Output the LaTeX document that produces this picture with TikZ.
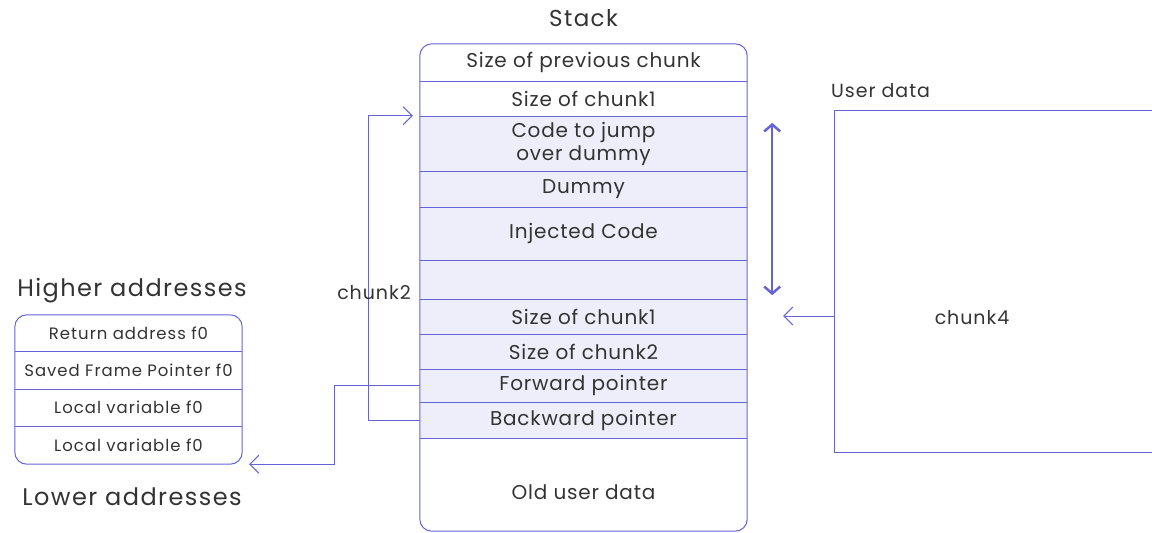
\documentclass[tikz,border=0pt]{standalone}
\usepackage{fontspec}
\setmainfont{Poppins}
\newfontfamily\rowfont[LetterSpace=4]{Poppins}
\newfontfamily\widefont[LetterSpace=6]{Poppins}
\newfontfamily\lblfont[LetterSpace=5]{Poppins}
\usetikzlibrary{arrows.meta}
\definecolor{ln}{HTML}{6464D8}
\definecolor{lav}{HTML}{EEEEFA}
\definecolor{tx}{HTML}{333333}
\tikzset{
  row/.style={draw=none, inner sep=0pt, minimum width=327pt, text=tx, font=\rowfont\fontsize{20}{23}\selectfont, align=center},
  lrow/.style={draw=none, inner sep=0pt, minimum width=227pt, text=tx, font=\widefont\fontsize{16.5}{19}\selectfont},
  conn/.style={draw=ln, line width=1pt, -{Straight Barb[length=9pt,width=18pt]}},
  lbl/.style={text=tx, inner sep=0pt},
  divl/.style={draw=ln, line width=1pt},
}
\begin{document}
\begin{tikzpicture}[x=1pt,y=-1pt]
\useasboundingbox (0,0) rectangle (1152,533);
% Stack rows
\node[row, minimum height=37pt] (r1) at (583.5,62.5) {Size of previous chunk};
\node[row, minimum height=35pt] (r2) at (583.5,98.5) {Size of chunk1};
\node[row, minimum height=55pt, fill=lav] (r3) at (583.5,143.5) {Code to jump\\over dummy};
\node[row, minimum height=36pt, fill=lav] (r4) at (583.5,189) {Dummy};
\node[row, minimum height=53pt, fill=lav] (r5) at (583.5,233.5) {Injected Code};
\node[row, minimum height=39pt, fill=lav] (r6) at (583.5,279.5) {};
\node[row, minimum height=35pt, fill=lav] (r7) at (583.5,316.5) {Size of chunk1};
\node[row, minimum height=35pt, fill=lav] (r8) at (583.5,351.5) {Size of chunk2};
\node[row, minimum height=33pt, fill=lav] (r9) at (583.5,385.5) {Forward pointer};
\node[row, minimum height=36pt, fill=lav] (r10) at (583.5,420) {Backward pointer};
\node[row, minimum height=93pt] (r11) at (583.5,484.5) {};
\node[lbl, font=\rowfont\fontsize{20}{23}\selectfont] (old) at (583.5,492) {Old user data};
\foreach \r in {r1,r2,r3,r4,r5,r6,r7,r8,r9,r10}{
  \draw[divl] (\r.south west) -- (\r.south east);
}
\draw[divl, rounded corners=12pt] (r1.north west) rectangle (r11.south east);
\node[lbl, font=\widefont\fontsize{23}{26}\selectfont] (stack) at (583.5,18) {Stack};

% Left frame
\node[lrow, minimum height=36pt] (l1) at (128.5,333) {Return address f0};
\node[lrow, minimum height=38pt] (l2) at (128.5,370) {Saved Frame Pointer f0};
\node[lrow, minimum height=37pt] (l3) at (128.5,407.5) {Local variable f0};
\node[lrow, minimum height=38pt] (l4) at (128.5,445) {Local variable f0};
\foreach \r in {l1,l2,l3}{
  \draw[divl] (\r.south west) -- (\r.south east);
}
\draw[divl, rounded corners=12pt] (l1.north west) rectangle (l4.south east);
\node[lbl, font=\widefont\fontsize{24}{27}\selectfont] (hi) at (132,291) {Higher addresses};
\node[lbl, font=\widefont\fontsize{24}{27}\selectfont] (lo) at (132,497) {Lower addresses};

% User data frame
\coordinate (c4tl) at (834,110);
\coordinate (c4bl) at (834,452);
\coordinate (c4l) at (834,316);
\draw[divl] (1153,110) -- (c4tl) -- (c4bl) -- (1153,452);
\node[lbl, font=\lblfont\fontsize{19}{22}\selectfont, anchor=west] (ud) at (831,91) {User data};
\node[lbl, font=\lblfont\fontsize{19}{22}\selectfont] (c4) at (972,318) {chunk4};

% connectors
\draw[conn] (r9.west) -- ++(-85,0) |- ([xshift=7pt]l4.south east);
\draw[conn] (r10.west) -- ++(-51,0) |- ([xshift=-7pt]r3.north west);
\node[lbl, font=\lblfont\fontsize{19}{22}\selectfont] (ch2) at (374,293) {chunk2};
\draw[conn] (c4l) -- ([xshift=36pt]c4l -| r7.east);
\draw[draw=ln, line width=2.5pt, {Straight Barb[length=7pt,width=16pt]}-{Straight Barb[length=7pt,width=16pt]}] ([xshift=25pt,yshift=-7pt]r3.north east) -- ([xshift=25pt,yshift=4pt]r6.south east);
\end{tikzpicture}
\end{document}
